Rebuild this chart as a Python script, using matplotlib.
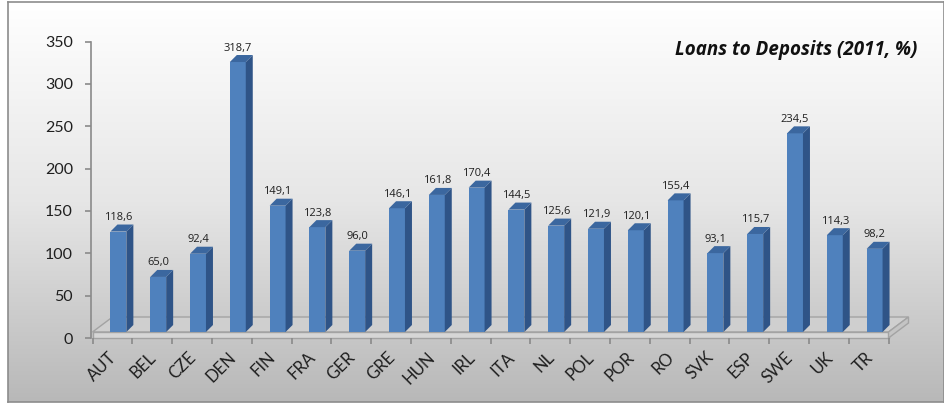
import numpy as np
import matplotlib
matplotlib.use("Agg")
import matplotlib.pyplot as plt
from matplotlib.colors import LinearSegmentedColormap
from matplotlib.patches import Polygon
import matplotlib.transforms as mtransforms

categories = ["AUT", "BEL", "CZE", "DEN", "FIN", "FRA", "GER", "GRE", "HUN", "IRL",
              "ITA", "NL", "POL", "POR", "RO", "SVK", "ESP", "SWE", "UK", "TR"]
values = [118.6, 65.0, 92.4, 318.7, 149.1, 123.8, 96.0, 146.1, 161.8, 170.4,
          144.5, 125.6, 121.9, 120.1, 155.4, 93.1, 115.7, 234.5, 114.3, 98.2]
y_ticks = [0, 50, 100, 150, 200, 250, 300, 350]
title = "Loans to Deposits (2011, %)"

W, H, DPI = 944, 405, 100
fig = plt.figure(figsize=(W / DPI, H / DPI), dpi=DPI)
fig.patch.set_facecolor("white")
FONT = ["Lato", "DejaVu Sans"]
FONT2 = ["Open Sans", "DejaVu Sans"]
TXT = "#1f1f1f"

# background with gradient and border
bg = fig.add_axes([7.5 / W, 3 / H, (W - 7.5) / W, 400 / H], zorder=-2)
cmap = LinearSegmentedColormap.from_list("g", ["#ffffff", "#e6e6e6", "#b8b8b8"])
grad = np.linspace(0, 1, 256).reshape(-1, 1)
bg.imshow(grad, aspect="auto", cmap=cmap, extent=[0, 1, 0, 1], origin="upper")
bg.set_xticks([]); bg.set_yticks([])
for s in bg.spines.values():
    s.set_color("#8c8c8c"); s.set_linewidth(1.2)

# main axes: 0 at y=338px, 350 at y=41.5px; x from 92.5 to 888.5 px
left, right = 92.5, 888.5
y0, y350 = 338.0, 41.5
ax = fig.add_axes([left / W, (H - y0) / H, (right - left) / W, (y0 - y350) / H])
ax.set_xlim(0, len(categories))
ax.set_ylim(0, 350)
ax.patch.set_alpha(0)
for k in ["top", "right", "bottom"]:
    ax.spines[k].set_visible(False)
ax.spines["left"].set_color("#8a8a8a")
ax.spines["left"].set_linewidth(1.2)
ax.spines["left"].set_position(("outward", 1))

ax.set_yticks(y_ticks)
ax.set_yticklabels([str(t) for t in y_ticks], fontsize=11.5, family=FONT, color=TXT)
ax.tick_params(axis="y", direction="out", length=4, width=1.2, color="#8a8a8a", pad=9)

n = len(categories)
ax.set_xticks(np.arange(n + 1))
ax.set_xticklabels([])
ax.set_xticks(np.arange(n) + 0.5, minor=True)
ax.set_xticklabels(categories, minor=True, rotation=45, ha="right", va="top",
                   rotation_mode="anchor", fontsize=12, family=FONT, color=TXT)
ax.tick_params(axis="x", which="major", direction="out", length=4, width=1.2, color="#8a8a8a")
ax.tick_params(axis="x", which="minor", length=0, pad=8)
for lbl in ax.get_xticklabels(minor=True):
    lbl.set_transform(lbl.get_transform() + mtransforms.ScaledTranslation(-4 / DPI, 0, fig.dpi_scale_trans))

fig.canvas.draw()
toD = ax.transData
inv = ax.transData.inverted()

def poly(pts_data_offsets, **kw):
    pts = []
    for (x, y, dx, dy) in pts_data_offsets:
        px, py = toD.transform((x, y))
        pts.append(inv.transform((px + dx, py + dy)))
    p = Polygon(pts, closed=True, clip_on=False, **kw)
    ax.add_patch(p)
    return p

# floor slab
FD_X, FD_Y, TH = 20, 15, 6
poly([(0, 0, 0, TH), (n, 0, 0, TH), (n, 0, FD_X, TH + FD_Y), (0, 0, FD_X, TH + FD_Y)],
     facecolor="#cfcfcf", edgecolor="#a3a3a3", lw=1.0, zorder=1)
poly([(0, 0, 0, 0), (n, 0, 0, 0), (n, 0, 0, TH), (0, 0, 0, TH)],
     facecolor="#d6d6d6", edgecolor="#a3a3a3", lw=1.0, zorder=1)
poly([(n, 0, 0, 0), (n, 0, FD_X, FD_Y), (n, 0, FD_X, FD_Y + TH), (n, 0, 0, TH)],
     facecolor="#c4c4c4", edgecolor="#a3a3a3", lw=1.0, zorder=1)

# 3D bars
BX, BY = 6, 6       # front face offset in px
DX, DY = 7, 7       # bar depth in px
hw = 0.2
front_c, side_c, top_c = "#4f81bd", "#2f5487", "#3b679f"
for i, v in enumerate(values):
    xc = i + 0.5
    x0, x1 = xc - hw, xc + hw
    poly([(x0, 0, BX, BY), (x1, 0, BX, BY), (x1, v, BX, BY), (x0, v, BX, BY)],
         facecolor=front_c, edgecolor="none", zorder=3)
    poly([(x1, 0, BX, BY), (x1, 0, BX + DX, BY + DY), (x1, v, BX + DX, BY + DY), (x1, v, BX, BY)],
         facecolor=side_c, edgecolor="none", zorder=3)
    poly([(x0, v, BX, BY), (x1, v, BX, BY), (x1, v, BX + DX, BY + DY), (x0, v, BX + DX, BY + DY)],
         facecolor=top_c, edgecolor="none", zorder=3)
    ax.annotate(f"{v:.1f}".replace(".", ","), (xc, v), xytext=(BX * 0.72, (BY + 14) * 0.72),
                textcoords="offset points", ha="center", va="center",
                fontsize=8, family=FONT2, color=TXT, zorder=4)

fig.text(917 / W, 1 - 50 / H, title, ha="right", va="center", fontsize=13.5,
         fontweight="bold", fontstyle="italic", family=FONT2, color="#111111")

fig.savefig("out.png", dpi=DPI)
